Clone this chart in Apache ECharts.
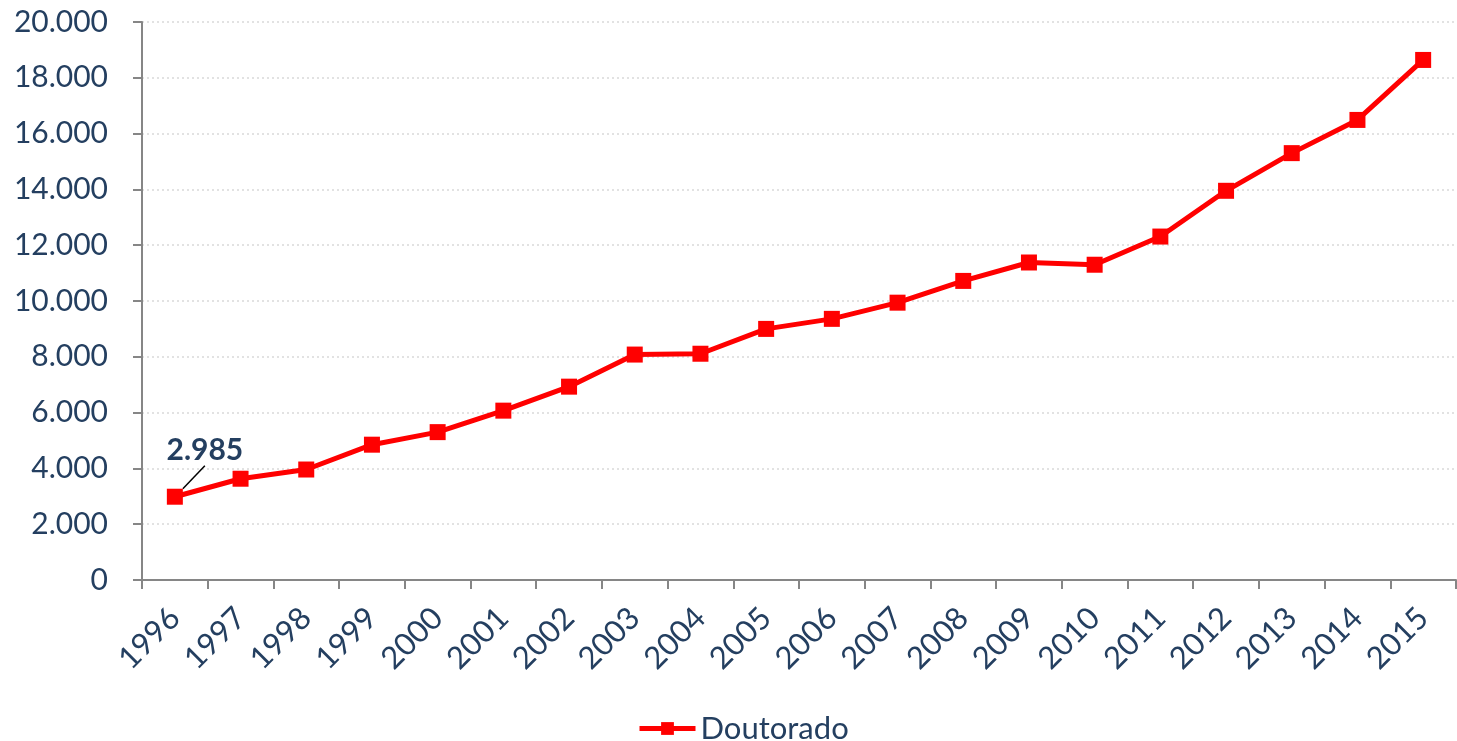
<!DOCTYPE html>
<html>
<head>
<meta charset="utf-8">
<style>
  html, body { margin: 0; padding: 0; background: #fff; }
  #chart { width: 1457px; height: 741px; }
</style>
<script src="https://cdn.jsdelivr.net/npm/echarts@6/dist/echarts.min.js"></script>
</head>
<body>
<div id="chart"></div>
<script>
// data
const years = ['1996', '1997', '1998', '1999', '2000', '2001', '2002', '2003', '2004', '2005',
  '2006', '2007', '2008', '2009', '2010', '2011', '2012', '2013', '2014', '2015'];
const doutorado = [2985, 3630, 3960, 4850, 5300, 6070, 6930, 8080, 8110, 9000,
  9360, 9940, 10720, 11380, 11300, 12310, 13950, 15300, 16490, 18640];
const seriesName = 'Doutorado';

const textColor = '#243F60';
const fontFamily = 'Lato, "Open Sans", sans-serif';

function fmt(v) {
  return String(v).replace(/\B(?=(\d{3})+(?!\d))/g, '.');
}

const chart = echarts.init(document.getElementById('chart'));

chart.setOption({
  animation: false,
  textStyle: { fontFamily: fontFamily },
  grid: { left: 142, right: 1, top: 22, bottom: 161 },
  legend: {
    top: 708,
    left: 632,
    itemWidth: 56,
    itemHeight: 16,
    itemGap: 4,
    data: [seriesName],
    lineStyle: { width: 5 },
    textStyle: { color: textColor, fontSize: 31, fontFamily: fontFamily }
  },
  xAxis: {
    type: 'category',
    data: years,
    boundaryGap: true,
    axisLine: { lineStyle: { color: '#868686', width: 2 } },
    axisTick: { show: true, length: 9, alignWithLabel: false, lineStyle: { color: '#868686', width: 2 } },
    axisLabel: { rotate: 45, margin: 33, color: textColor, fontSize: 31, interval: 0 }
  },
  yAxis: {
    type: 'value',
    min: 0,
    max: 20000,
    interval: 2000,
    axisLine: { show: true, lineStyle: { color: '#868686', width: 2 } },
    axisTick: { show: true, length: 9, lineStyle: { color: '#868686', width: 2 } },
    axisLabel: { margin: 34, color: textColor, fontSize: 30, formatter: fmt },
    splitLine: { lineStyle: { color: '#D9D9D9', type: [2, 3], width: 1.5 } }
  },
  series: [{
    name: seriesName,
    type: 'line',
    data: doutorado.map((v, i) => i === 0
      ? { value: v, label: { show: true } }
      : v),
    symbol: 'rect',
    symbolSize: 16,
    lineStyle: { color: '#FF0000', width: 5 },
    itemStyle: { color: '#FF0000' },
    label: {
      show: false,
      position: 'top',
      color: textColor,
      fontSize: 30,
      fontWeight: 'bold',
      formatter: p => fmt(p.value)
    },
    labelLayout: p => p.dataIndex === 0 ? { dx: 30, dy: -18 } : {},
    labelLine: { show: true, lineStyle: { color: '#000', width: 1.5 } }
  }]
});
</script>
</body>
</html>
